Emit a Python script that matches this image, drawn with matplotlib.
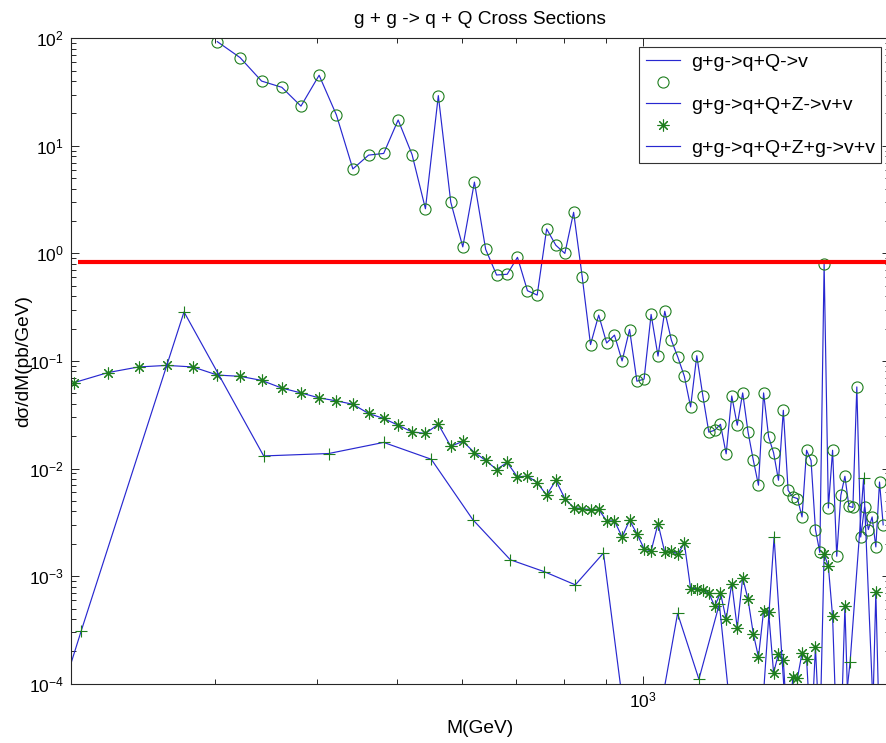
import matplotlib
matplotlib.use("Agg")
import matplotlib.pyplot as plt
from matplotlib.ticker import LogLocator, NullFormatter

plt.rcParams["font.family"] = ["Liberation Sans", "DejaVu Sans"]
plt.rcParams["mathtext.fontset"] = "custom"
plt.rcParams["mathtext.rm"] = "Liberation Sans"
plt.rcParams["mathtext.default"] = "regular"
plt.rcParams["axes.unicode_minus"] = False

# mass bins (GeV) shared by the first two samples
mass = [202, 222, 242, 262, 282, 302, 322, 342, 362, 382,
        402, 422, 442, 462, 482, 502, 522, 542, 562, 582,
        602, 622, 642, 662, 682, 702, 722, 742, 762, 782,
        802, 822, 842, 862, 882, 902, 922, 942, 962, 982,
        1002, 1022, 1042, 1062, 1082, 1102, 1122, 1142, 1162, 1182,
        1202, 1222, 1242, 1262, 1282, 1302, 1322, 1342, 1362, 1382,
        1402, 1422, 1442, 1462, 1482, 1502, 1522, 1542, 1562, 1582,
        1602, 1622, 1642, 1662, 1682, 1702, 1722, 1742, 1762, 1782,
        1802, 1822, 1842, 1862, 1882, 1902, 1922, 1942, 1962]
mass_qq = mass[5:]

# g+g->q+Q->v  (pb/GeV)
xs_qq = [93, 66, 40, 35, 23.4, 45.3, 19.4, 6.1, 8.2, 8.5,
         17.4, 8.3, 2.6, 29.3, 3.0, 1.15, 4.6, 1.09, 0.63, 0.64,
         0.92, 0.45, 0.41, 1.69, 1.19, 1.0, 2.41, 0.61, 0.142, 0.267,
         0.147, 0.174, 0.100, 0.196, 0.0649, 0.0678, 0.271, 0.111, 0.290, 0.156,
         0.108, 0.0722, 0.0374, 0.112, 0.0473, 0.0218, 0.0227, 0.0258, 0.0137, 0.0473,
         0.0253, 0.0505, 0.0219, 0.0120, 0.0070, 0.0505, 0.0197, 0.0140, 0.00778, 0.0348,
         0.00628, 0.00544, 0.00526, 0.00355, 0.0148, 0.0119, 0.00271, 0.00166, 0.794, 0.0043,
         0.0148, 0.00153, 0.00565, 0.00848, 0.00446, 0.00435, 0.0574, 0.00231, 0.0044, 0.00271,
         0.00355, 0.00187, 0.0075, 0.003]

# g+g->q+Q+Z->v+v
xs_z = [0.063, 0.078, 0.088, 0.091, 0.088, 0.074, 0.072, 0.066, 0.056, 0.0505,
        0.0454, 0.0426, 0.0396, 0.0325, 0.0292, 0.0253, 0.0219, 0.0212, 0.0258, 0.0161,
        0.0179, 0.0141, 0.0119, 0.0098, 0.0114, 0.00835, 0.00853, 0.00741, 0.00565, 0.00778,
        0.00526, 0.00434, 0.00424, 0.00415, 0.00418, 0.00326, 0.00326, 0.00231, 0.0033, 0.00248,
        0.0018, 0.00171, 0.00308, 0.00167, 0.00171, 0.0016, 0.00203, 0.000766, 0.000766, 0.000738,
        0.000697, 0.000524, 0.000697, 0.000396, 0.000851, 0.000329, 0.000968, 0.000608, 0.000292, 0.000177,
        0.000473, 0.000463, 0.000126, 0.00019, 0.000165, 3e-5, 0.000115, 0.000113, 0.000193, 0.000171,
        3e-5, 0.000219, 3e-5, 0.0016, 0.00123, 0.000423, 3e-5, 3e-5, 0.000524, 3e-5,
        3e-5, 3e-5, 3e-5, 3e-5, 3e-5, 3e-5, 0.000711, 3e-5, 3e-5]

# g+g->q+Q+Z+g->v+v (coarser binning)
mass_zg = [137, 206, 275, 344, 413, 482, 551, 619, 688, 757,
           826, 894, 963, 1032, 1101, 1169, 1238, 1307, 1376, 1444,
           1513, 1582, 1651, 1719, 1788, 1857, 1926, 1994]
xs_zg = [1.6e-8, 3.1e-4, 0.286, 0.0131, 0.0138, 0.0175, 0.0122, 0.00336, 0.00142, 0.0011,
         0.00083, 0.00164, 2e-5, 2.8e-5, 4.5e-4, 1.1e-4, 5.5e-4, 1e-5, 1e-5, 2.3e-3,
         1e-5, 1e-5, 1e-5, 1e-5, 1.6e-4, 8.1e-3, 1e-5, 1e-5]

threshold = 0.83
threshold_span = [204, 2000]

labels = ["g+g->q+Q->v", "", "g+g->q+Q+Z->v+v", "", "g+g->q+Q+Z+g->v+v"]

blue = "#2828d0"
green = "#1e7e1e"

fig = plt.figure(figsize=(8.86, 7.43), dpi=100)
ax = fig.add_axes([0.0798, 0.0798, 0.9247, 0.8687])
ax.set_xscale("log")
ax.set_yscale("log")

l1, = ax.plot(mass_qq, xs_qq, "-", color=blue, lw=0.85)
m1, = ax.plot(mass_qq, xs_qq, "o", ls="none", mfc="none", mec=green, ms=8, mew=0.8)
l2, = ax.plot(mass, xs_z, "-", color=blue, lw=0.85)
m2, = ax.plot(mass, xs_z, marker=(8, 2, 0), ls="none", mec=green, ms=8.5, mew=0.8)
l3, = ax.plot(mass_zg, xs_zg, "-", color=blue, lw=0.85)
m3, = ax.plot(mass_zg, xs_zg, "+", ls="none", mec=green, ms=9, mew=0.8)
ax.hlines(threshold, threshold_span[0], threshold_span[1], colors="red", lw=3)

ax.set_xlim(200, 2000)
ax.set_ylim(1e-4, 1e2)

ax.xaxis.set_major_locator(LogLocator(base=10))
ax.xaxis.set_minor_locator(LogLocator(base=10, subs=range(2, 10), numticks=20))
ax.xaxis.set_minor_formatter(NullFormatter())
ax.yaxis.set_major_locator(LogLocator(base=10, numticks=20))
ax.yaxis.set_minor_locator(LogLocator(base=10, subs=range(2, 10), numticks=20))
ax.yaxis.set_minor_formatter(NullFormatter())

ax.tick_params(which="both", direction="in", top=True, right=True,
               labelsize=12.5, pad=5, color="#262626")
ax.tick_params(which="major", length=6, width=0.7)
ax.tick_params(which="minor", length=3.5, width=0.7)
for s in ax.spines.values():
    s.set_color("#262626")
    s.set_linewidth(0.8)

ax.set_title("g + g -> q + Q Cross Sections", fontsize=13.8, pad=10)
ax.set_xlabel("M(GeV)", fontsize=13.8)
ax.set_ylabel("dσ/dM(pb/GeV)", fontsize=13.8)
ax.xaxis.set_label_coords(0.5, -0.056)
ax.yaxis.set_label_coords(-0.047, 0.5)

leg = ax.legend([l1, m1, l2, m2, l3], labels, loc="upper right",
                bbox_to_anchor=(0.989, 0.986), borderaxespad=0, fontsize=14,
                fancybox=False, framealpha=1, edgecolor="#333333",
                handlelength=1.75, handletextpad=0.57, labelspacing=0.2,
                borderpad=0.32, numpoints=1)
leg.get_frame().set_linewidth(0.8)

fig.savefig("out.png", dpi=100)
